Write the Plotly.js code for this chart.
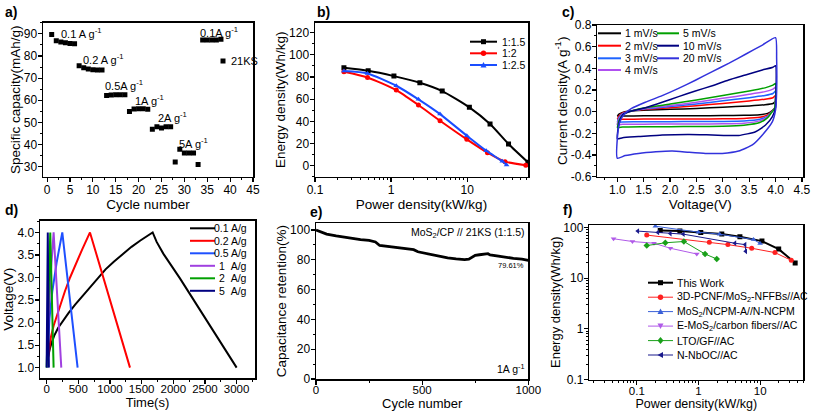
<!DOCTYPE html>
<html><head><meta charset="utf-8">
<script src="https://cdn.plot.ly/plotly-3.0.1.min.js"></script>
<style>html,body{margin:0;padding:0;background:#fff}#chart{width:813px;height:412px}</style>
</head><body><div id="chart"></div>
<script>
// ---------- Panel a: rate capability ----------
const cyclesA = [1,2,3,4,5,6,7,8,9,10,11,12,13,14,15,16,17,18,19,20,21,22,23,24,25,26,27,28,29,30,31,32,33,34,35,36,37,38];
const capacityA = [89.7,86.8,86.3,85.9,85.6,85.5,75.6,74.7,74.1,73.8,73.6,73.6,62.1,62.4,62.5,62.5,62.5,54.9,56.1,56.2,56.2,55.9,46.9,48.0,47.5,48.0,48.0,32.1,37.9,36.2,36.2,36.2,31.0,87.2,87.2,87.2,87.2,87.5];
const rateLabelsA = ['0.1 A g<sup>-1</sup>','0.2 A g<sup>-1</sup>','0.5A g<sup>-1</sup>','1A g<sup>-1</sup>','2A g<sup>-1</sup>','5A g<sup>-1</sup>','0.1A g<sup>-1</sup>'];
const seriesNameA = '21KS';

// ---------- Panel b: Ragone of ratios ----------
const ratioNamesB = ['1:1.5','1:2','1:2.5'];
const powerB_15 = [0.24,0.50,1.09,2.39,4.7,10.7,20,35,63];
const energyB_15 = [88.3,85.6,80.8,74.8,67.3,52.6,37.5,19.5,3.0];
const powerB_2 = [0.24,0.49,1.17,2.29,4.4,9.9,18.5,31.5,59];
const energyB_2 = [84.7,79.6,68.2,54.7,40.5,23.7,11.7,3.6,0.3];
const powerB_25 = [0.24,0.49,1.17,2.29,4.4,9.9,17.8,29,33];
const energyB_25 = [85.3,83.2,72.1,59.8,46.5,27.0,13.5,3.9,0.6];

// ---------- Panel c: CV curves ----------
const scanNamesC = ['1 mV/s','2 mV/s','3 mV/s','4 mV/s','5 mV/s','10 mV/s','20 mV/s'];
const voltC = [1.00,1.03,1.10,1.20,1.50,2.00,2.50,3.00,3.50,3.80,3.95,4.00,3.98,3.92,3.85,3.70,3.40,3.00,2.50,2.00,1.50,1.10,1.00];
const curC1 = [-0.040,-0.022,-0.006,0.004,0.014,0.022,0.030,0.041,0.053,0.064,0.075,0.095,0.030,0.004,-0.016,-0.028,-0.034,-0.036,-0.037,-0.037,-0.038,-0.040,-0.042];
const curC2 = [-0.070,-0.040,-0.012,0.002,0.020,0.037,0.055,0.076,0.099,0.115,0.129,0.150,0.030,-0.002,-0.030,-0.052,-0.062,-0.066,-0.067,-0.067,-0.068,-0.070,-0.072];
const curC3 = [-0.095,-0.055,-0.018,0.000,0.024,0.047,0.071,0.100,0.129,0.150,0.168,0.190,0.030,-0.005,-0.040,-0.070,-0.086,-0.090,-0.091,-0.092,-0.093,-0.095,-0.098];
const curC4 = [-0.120,-0.070,-0.024,-0.002,0.028,0.057,0.087,0.123,0.160,0.185,0.208,0.225,0.030,-0.008,-0.048,-0.085,-0.106,-0.112,-0.114,-0.114,-0.115,-0.117,-0.120];
const curC5 = [-0.150,-0.085,-0.030,-0.004,0.034,0.070,0.108,0.150,0.191,0.220,0.245,0.260,0.030,-0.010,-0.055,-0.100,-0.125,-0.134,-0.137,-0.138,-0.139,-0.142,-0.148];
const voltC10 = [1.00,1.01,1.04,1.11,1.27,1.53,1.85,2.16,2.48,2.80,3.11,3.43,3.75,3.95,4.00,4.01,4.00,3.94,3.81,3.62,3.30,2.80,2.36,1.85,1.40,1.10,1.00];
const curC10 = [-0.25,-0.17,-0.09,-0.025,0.006,0.037,0.087,0.139,0.191,0.240,0.293,0.339,0.385,0.410,0.425,0.185,0.04,-0.046,-0.123,-0.185,-0.220,-0.215,-0.210,-0.215,-0.230,-0.240,-0.250];
const voltC20 = [1.00,1.00,1.05,1.15,1.27,1.53,1.85,2.16,2.48,2.80,3.11,3.43,3.75,4.00,4.02,4.02,4.00,3.94,3.75,3.56,3.30,2.99,2.67,2.36,2.04,1.73,1.40,1.15,1.00];
const curC20 = [-0.43,-0.246,-0.09,-0.015,0.03,0.087,0.148,0.215,0.29,0.37,0.446,0.53,0.615,0.683,0.49,0.185,0.016,-0.092,-0.215,-0.307,-0.363,-0.385,-0.385,-0.375,-0.363,-0.37,-0.385,-0.405,-0.43];

// ---------- Panel d: GCD ----------
const currentNamesD = ['0.1 A/g','0.2 A/g','0.5 A/g','1\u00a0\u00a0A/g','2\u00a0\u00a0A/g','5\u00a0\u00a0A/g'];
const timeD01 = [10,25,50,80,120,180,260,350,450,560,680,800,930,1060,1200,1340,1480,1600,1674,1737,1842,2105,2368,2632,3000];
const voltD01 = [1.15,1.28,1.42,1.56,1.71,1.88,2.05,2.22,2.40,2.58,2.78,2.98,3.18,3.35,3.52,3.68,3.82,3.93,4.00,3.79,3.53,2.98,2.39,1.80,1.00];
const timeD02 = [20,40,70,110,160,220,290,370,460,560,684,1316];
const voltD02 = [1.20,1.45,1.70,1.93,2.15,2.40,2.70,3.00,3.30,3.62,4.00,1.00];
const timeD05 = [8,20,45,90,160,247,489];
const voltD05 = [1.20,1.60,2.10,2.70,3.35,4.00,1.00];
const timeD1 = [5,15,35,70,110,231];
const voltD1 = [1.20,1.60,2.30,3.20,4.00,1.00];
const timeD2 = [0,8,20,40,57,110];
const voltD2 = [1.00,1.50,2.30,3.30,4.00,1.00];
const timeD5 = [0,5,12,18,35];
const voltD5 = [1.00,1.80,3.00,4.00,1.00];

// ---------- Panel e: cycling ----------
const cyclesE = [0,20,50,95,140,175,210,250,280,300,330,380,420,460,480,500,540,580,620,660,700,720,735,750,770,790,810,820,850,890,930,970,1000];
const retentionE = [100,98.8,97.3,96.0,94.9,94.3,93.6,93.0,92.0,89.6,89.0,88.3,87.6,86.8,85.4,84.8,83.4,82.2,81.3,80.6,80.1,80.4,81.7,83.0,83.4,83.8,84.1,83.3,82.6,81.8,81.0,80.4,79.6];

// ---------- Panel f: Ragone comparison ----------
const namesF = ['This Work','3D-PCNF/MoS<sub>2</sub>-NFFBs//AC','MoS<sub>2</sub>/NCPM-A//N-NCPM','E-MoS<sub>2</sub>/carbon fibers//AC','LTO/GF//AC','N-NbOC//AC'];
const powerF0 = [0.24,0.50,1.09,2.39,4.7,10.7,20,37];
const energyF0 = [87,85,80,74.5,66,54,37.5,20];
const powerF1 = [0.145,1.5,3.0,7.3,17.4,32];
const energyF1 = [71,51,46,39,32,22.5];
const powerF2 = [0.2,1.0,2.2,7.8,10];
const energyF2 = [106,81,74,58,48.5];
const powerF3 = [0.042,0.085,0.19,0.35,0.94];
const energyF3 = [60,53,49,39,30];
const powerF4 = [0.145,0.29,0.58,1.28,1.98];
const energyF4 = [44,50,53,30,24];
const powerF5 = [0.104,0.22,0.35,0.57,3.9,5.7,5.85];
const energyF5 = [85,80,76,74,49,46,34];

// ---------- styling ----------
const FONT = 'Liberation Sans, Arial, Helvetica, sans-serif';
const W = 813, H = 412;
const PX = x => x / W, PY = y => 1 - y / H;

const colB = ['#000000','#ff0000','#1a4dff'];
const colC = ['#000000','#ff0000','#1e64ff','#b050f0','#00a000','#000080','#3232dc'];
const colD = ['#000000','#ff0000','#1e50ff','#a040e0','#00a000','#000080'];
const colF = ['#000000','#ff2020','#3a60d8','#b05ae8','#1aa01a','#1a1a8c'];
const symF = ['square','circle','triangle-up','triangle-down','diamond','triangle-left'];

function ax(letter, d0, d1, anchor, extra, bottomRow) {
  return Object.assign({
    domain: [d0, d1], anchor: anchor, showline: true, linecolor: '#000', linewidth: 1.5,
    mirror: true, ticks: 'outside', ticklen: 4, tickwidth: 1.2, tickcolor: '#000',
    showgrid: false, zeroline: false,
    tickfont: {family: FONT, size: bottomRow ? 11.5 : 12, color: '#000'},
    automargin: letter === 'x' ? 'top' : 'right',
    ticklabelstandoff: letter === 'x' ? (bottomRow ? -4 : -3) : -2
  }, extra);
}
function ttl(text, standoff, size) { return {text: text, font: {family: FONT, size: size || 13.5, color: '#000'}, standoff: standoff}; }
function mnr(dt) { const m = {ticks: 'outside', ticklen: 2, tickwidth: 1, tickcolor: '#000', showgrid: false}; if (dt !== undefined) m.dtick = dt; return m; }

const traces = [];
// a
traces.push({x: cyclesA, y: capacityA, xaxis: 'x', yaxis: 'y', mode: 'markers', name: seriesNameA,
  marker: {symbol: 'square', size: 5, color: '#000'}});
// b
[[powerB_15, energyB_15], [powerB_2, energyB_2], [powerB_25, energyB_25]].forEach((s, i) => {
  traces.push({x: s[0], y: s[1], xaxis: 'x2', yaxis: 'y2', mode: 'lines+markers', name: ratioNamesB[i],
    line: {color: colB[i], width: 2, shape: 'spline', smoothing: 0.6}, marker: {symbol: ['square','circle','triangle-up'][i], size: 5, color: colB[i]}});
});
// c
const cvSets = [[voltC, curC1],[voltC, curC2],[voltC, curC3],[voltC, curC4],[voltC, curC5],[voltC10, curC10],[voltC20, curC20]];
cvSets.forEach((s, i) => {
  traces.push({x: s[0], y: s[1], xaxis: 'x3', yaxis: 'y3', mode: 'lines', name: scanNamesC[i],
    line: {color: colC[i], width: 1.5, shape: 'spline', smoothing: 0.5}});
});
// d
[[timeD01, voltD01],[timeD02, voltD02],[timeD05, voltD05],[timeD1, voltD1],[timeD2, voltD2],[timeD5, voltD5]].forEach((s, i) => {
  traces.push({x: s[0], y: s[1], xaxis: 'x4', yaxis: 'y4', mode: 'lines', name: currentNamesD[i],
    line: {color: colD[i], width: 2}});
});
// e
traces.push({x: cyclesE, y: retentionE, xaxis: 'x5', yaxis: 'y5', mode: 'lines', name: 'retention',
  line: {color: '#000', width: 2.8}});
// f
[[powerF0, energyF0],[powerF1, energyF1],[powerF2, energyF2],[powerF3, energyF3],[powerF4, energyF4],[powerF5, energyF5]].forEach((s, i) => {
  traces.push({x: s[0], y: s[1], xaxis: 'x6', yaxis: 'y6', mode: 'lines+markers', name: namesF[i],
    line: {color: colF[i], width: i === 0 ? 2 : 1}, marker: {symbol: symF[i], size: 5, color: colF[i]}});
});

// ---------- annotations & manual legends ----------
const annotations = [];
const shapes = [];
function ann(x, y, text, size, xanchor, extra) {
  annotations.push(Object.assign({xref: 'paper', yref: 'paper', x: PX(x), y: PY(y), text: text, showarrow: false,
    xanchor: xanchor || 'center', yanchor: 'middle', font: {family: FONT, size: size, color: '#000'}}, extra || {}));
}
function legLine(x0, x1, y, color, w) {
  shapes.push({type: 'line', xref: 'paper', yref: 'paper', x0: PX(x0), x1: PX(x1), y0: PY(y), y1: PY(y), line: {color: color, width: w}});
}
const symPaths = {
  'triangle-up': 'M-3,-2.5L3,-2.5L0,3Z', 'triangle-down': 'M-3,2.5L3,2.5L0,-3Z',
  'diamond': 'M0,3.5L3,0L0,-3.5L-3,0Z', 'triangle-left': 'M-3,0L2.5,3L2.5,-3Z'
};
function legMarker(x, y, sym, color) {
  const base = {xref: 'paper', yref: 'paper', xsizemode: 'pixel', ysizemode: 'pixel', xanchor: PX(x), yanchor: PY(y),
    fillcolor: color, line: {width: 0}};
  if (sym === 'square') shapes.push(Object.assign({type: 'rect', x0: -2.5, x1: 2.5, y0: -2.5, y1: 2.5}, base));
  else if (sym === 'circle') shapes.push(Object.assign({type: 'circle', x0: -2.7, x1: 2.7, y0: -2.7, y1: 2.7}, base));
  else shapes.push(Object.assign({type: 'path', path: symPaths[sym]}, base));
}

// panel labels
[['a)',3,12],['b)',315,12],['c)',560,12],['d)',3,210],['e)',308,212],['f)',561,210]].forEach(p => ann(p[1], p[2], '<b>' + p[0] + '</b>', 14, 'left'));

// panel a texts and legend
[[81,33],[103,59],[124,85],[149,100],[172,117],[193,143],[219,32]].forEach((p, i) => ann(p[0], p[1], rateLabelsA[i], 11));
legMarker(223, 61, 'square', '#000');
ann(229, 61, seriesNameA, 11, 'left');

// panel b legend
[41.7, 53.3, 65].forEach((y, i) => {
  legLine(470, 497, y, colB[i], 2);
  legMarker(483.5, y, ['square','circle','triangle-up'][i], colB[i]);
  ann(500, y, ratioNamesB[i], 10.5, 'left');
});

// panel c legend (two columns)
[33.3, 45.7, 58.3, 70].forEach((y, i) => { legLine(598, 621, y, colC[i], 2); ann(623, y, scanNamesC[i], 10.5, 'left'); });
[33.3, 45.7, 58.3].forEach((y, i) => { legLine(657, 679, y, colC[i + 4], 2); ann(681, y, scanNamesC[i + 4], 10.5, 'left'); });

// panel d legend
[228.3, 240.8, 253.3, 265.8, 278.3, 290.8].forEach((y, i) => { legLine(190, 215, y, colD[i], 2); ann(249, y, currentNamesD[i], 10.5, 'right'); });

// panel e texts
ann(467.5, 232.5, 'MoS<sub>2</sub>/CP // 21KS (1:1.5)', 10.5);
ann(526, 265.5, '79.61%', 7.5, 'right');
ann(526.5, 368, '1A g<sup>-1</sup>', 10.5, 'right');

// panel f legend
[282.7, 297.2, 311.6, 326.1, 340.6, 355].forEach((y, i) => {
  legLine(648, 673, y, colF[i], i === 0 ? 2 : 1);
  legMarker(660.5, y, symF[i], colF[i]);
  ann(675, y, namesF[i], 10.5, 'left');
});

const layout = {
  width: W, height: H, margin: {l: 0, r: 0, t: 0, b: 0, autoexpand: false}, paper_bgcolor: '#fff', plot_bgcolor: '#fff',
  showlegend: false, font: {family: FONT, color: '#000'},
  xaxis: ax('x', PX(43), PX(253), 'y', {range: [-0.9, 45], tick0: 0, dtick: 5, minor: mnr(2.5), title: ttl('Cycle number', 0)}),
  yaxis: ax('y', PY(176.7), PY(22.7), 'x', {range: [25.5, 95], tick0: 0, dtick: 10, minor: mnr(5), title: ttl('Specific capacity(mAh/g)', 0)}),
  xaxis2: ax('x', PX(315), PX(528), 'y2', {type: 'log', range: [-1, 1.8], dtick: 1, minor: mnr(), title: ttl('Power density(kW/kg)', 0)}),
  yaxis2: ax('y', PY(176.7), PY(22.7), 'x2', {range: [-10, 129], tick0: 0, dtick: 20, minor: mnr(10), title: ttl('Energy density(Wh/kg)', 0)}),
  xaxis3: ax('x', PX(597.3), PX(803), 'y3', {range: [0.62, 4.52], tick0: 0, dtick: 0.5, tickformat: '.1f', minor: mnr(0.25), title: ttl('Voltage(V)', 0)}),
  yaxis3: ax('y', PY(176.7), PY(25), 'x3', {range: [-0.6, 0.8], tickvals: [-0.6,-0.4,-0.2,0,0.2,0.4,0.6,0.8],
    ticktext: ['-0.6','-0.4','-0.2','0.0','0.2','0.4','0.6','0.8'], minor: mnr(0.1), title: ttl('Current density(A g<sup>-1</sup>)', 0)}),
  xaxis4: ax('x', PX(40), PX(255), 'y4', {range: [-105, 3290], tick0: 0, dtick: 500, minor: mnr(250), title: ttl('Time(s)', 0, 13)}, true),
  yaxis4: ax('y', PY(378), PY(220.7), 'x4', {range: [0.77, 4.26], tick0: 0, dtick: 0.5, tickformat: '.1f', minor: mnr(0.25), title: ttl('Voltage(V)', 0)}),
  xaxis5: ax('x', PX(316), PX(528.3), 'y5', {range: [0, 1000], tick0: 0, dtick: 500, minor: mnr(250), title: ttl('Cycle number', 0, 13)}, true),
  yaxis5: ax('y', PY(379), PY(223.3), 'x5', {range: [0, 104.5], tick0: 0, dtick: 20, minor: mnr(10), title: ttl('Capacitance retention(%)', 0)}),
  xaxis6: ax('x', PX(589.3), PX(803.3), 'y6', {type: 'log', range: [-1.77, 1.70], dtick: 1, minor: mnr(), title: ttl('Power density(kW/kg)', 0, 12.5)}, true),
  yaxis6: ax('y', PY(379.5), PY(225), 'x6', {type: 'log', range: [-1, 2.05], dtick: 1, minor: mnr(), title: ttl('Energy density(Wh/kg)', 0, 13)}),
  annotations: annotations, shapes: shapes
};
Plotly.newPlot('chart', traces, layout, {displayModeBar: false, staticPlot: true});
</script></body></html>
